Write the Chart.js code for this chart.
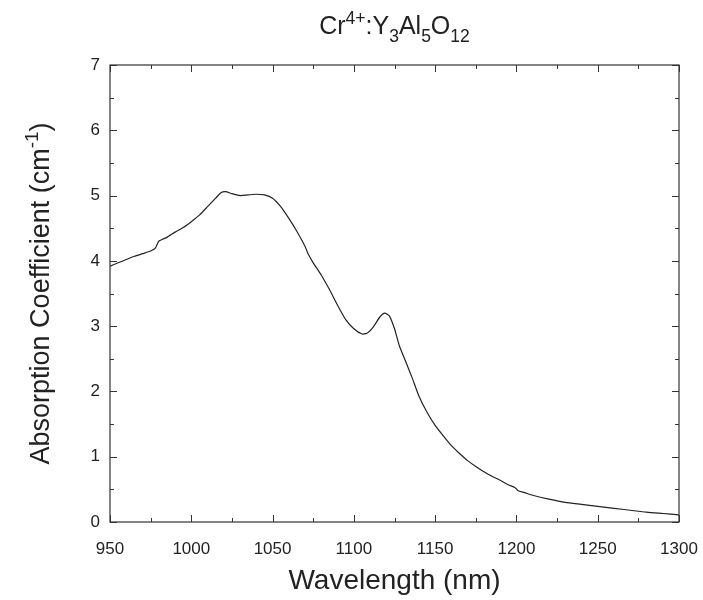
<!DOCTYPE html>
<html lang="en">
<head>
    <meta charset="UTF-8">
    <title>Cr4+:YAG absorption</title>
    <script src="https://cdn.jsdelivr.net/npm/chart.js"></script>
    <style>
        html, body { margin: 0; padding: 0; background: #fff; }
        #myChart { display: block; }
    </style>
</head>
<body>
    <canvas id="myChart" width="703" height="600"></canvas>

    <script>
        // wavelength (nm) and absorption coefficient (cm^-1)
        const wavelengths = [950, 955, 960, 965, 970, 975, 978, 980, 985, 990, 995, 1000, 1005, 1010, 1015, 1018, 1021, 1025, 1030, 1035, 1040, 1045, 1050, 1055, 1060, 1065, 1070, 1072, 1075, 1080, 1085, 1090, 1095, 1100, 1105, 1108, 1112, 1116, 1119, 1122, 1125, 1128, 1132, 1136, 1140, 1145, 1150, 1155, 1160, 1165, 1170, 1175, 1180, 1185, 1190, 1195, 1199, 1201, 1205, 1210, 1220, 1230, 1240, 1250, 1260, 1270, 1280, 1290, 1300];
        const absorption = [3.92, 3.97, 4.02, 4.07, 4.11, 4.15, 4.20, 4.30, 4.36, 4.44, 4.51, 4.60, 4.70, 4.83, 4.96, 5.04, 5.06, 5.03, 5.00, 5.01, 5.02, 5.01, 4.96, 4.83, 4.65, 4.45, 4.22, 4.10, 3.97, 3.78, 3.56, 3.32, 3.10, 2.96, 2.88, 2.89, 2.99, 3.14, 3.20, 3.15, 2.96, 2.70, 2.45, 2.20, 1.93, 1.68, 1.48, 1.32, 1.17, 1.05, 0.94, 0.85, 0.77, 0.70, 0.64, 0.57, 0.53, 0.48, 0.45, 0.41, 0.35, 0.30, 0.27, 0.24, 0.21, 0.18, 0.15, 0.13, 0.11];
        const xTicks = [950, 1000, 1050, 1100, 1150, 1200, 1250, 1300];
        const yTicks = [0, 1, 2, 3, 4, 5, 6, 7];

        const FONT = '"Liberation Sans", Arial, sans-serif';
        const INK = '#222';

        // draws text pieces with super/subscripts, starting at x
        function drawRich(ctx, parts, x, y, size) {
            let cx = x;
            for (const p of parts) {
                const s = p.pos ? size * 0.7 : size;
                ctx.font = s + 'px ' + FONT;
                const dy = p.pos === 'sup' ? -size * 0.4 : p.pos === 'sub' ? size * 0.3 : 0;
                ctx.fillText(p.t, cx, y + dy);
                cx += ctx.measureText(p.t).width;
            }
        }
        function richWidth(ctx, parts, size) {
            let w = 0;
            for (const p of parts) {
                ctx.font = (p.pos ? size * 0.7 : size) + 'px ' + FONT;
                w += ctx.measureText(p.t).width;
            }
            return w;
        }

        const framePlugin = {
            id: 'framePlugin',
            afterDraw(chart) {
                const {ctx, chartArea: a} = chart;
                const xs = chart.scales.x, ys = chart.scales.y;
                ctx.save();
                ctx.strokeStyle = '#333';
                ctx.lineWidth = 1.2;
                ctx.strokeRect(a.left, a.top, a.right - a.left, a.bottom - a.top);

                // inward ticks on all four sides, minor at halves
                ctx.lineWidth = 1;
                ctx.beginPath();
                for (let v = 950; v <= 1300; v += 25) {
                    const px = Math.round(xs.getPixelForValue(v)) + 0.5;
                    const len = v % 50 === 0 ? 7 : 4;
                    ctx.moveTo(px, a.bottom); ctx.lineTo(px, a.bottom - len);
                    ctx.moveTo(px, a.top); ctx.lineTo(px, a.top + len);
                }
                for (let v = 0; v <= 7; v += 0.5) {
                    const py = Math.round(ys.getPixelForValue(v)) + 0.5;
                    const len = v % 1 === 0 ? 7 : 4;
                    ctx.moveTo(a.left, py); ctx.lineTo(a.left + len, py);
                    ctx.moveTo(a.right, py); ctx.lineTo(a.right - len, py);
                }
                ctx.stroke();

                ctx.fillStyle = INK;
                ctx.textBaseline = 'alphabetic';
                ctx.textAlign = 'left';

                // title
                const title = [{t: 'Cr'}, {t: '4+', pos: 'sup'}, {t: ':Y'}, {t: '3', pos: 'sub'},
                               {t: 'Al'}, {t: '5', pos: 'sub'}, {t: 'O'}, {t: '12', pos: 'sub'}];
                const cx = (a.left + a.right) / 2;
                const tw = richWidth(ctx, title, 25);
                drawRich(ctx, title, cx - tw / 2, 34, 25);

                // x axis title
                ctx.font = '28px ' + FONT;
                ctx.textAlign = 'center';
                ctx.fillText('Wavelength (nm)', cx, 589);

                // y axis title
                const ylab = [{t: 'Absorption Coefficient (cm'}, {t: '-1', pos: 'sup'}, {t: ')'}];
                ctx.textAlign = 'left';
                const yw = richWidth(ctx, ylab, 27);
                ctx.translate(49, (a.top + a.bottom) / 2);
                ctx.rotate(-Math.PI / 2);
                drawRich(ctx, ylab, -yw / 2, 0, 27);
                ctx.restore();
            }
        };

        const config = {
            type: 'line',
            data: {
                datasets: [{
                    data: wavelengths.map((w, i) => ({x: w, y: absorption[i]})),
                    borderColor: '#222',
                    borderWidth: 1.2,
                    pointRadius: 0,
                    tension: 0.2,
                    fill: false
                }]
            },
            options: {
                responsive: false,
                animation: false,
                layout: {padding: {left: 0, top: 65, right: 24, bottom: 0}},
                plugins: {
                    legend: {display: false},
                    tooltip: {enabled: false}
                },
                scales: {
                    x: {
                        type: 'linear',
                        min: 950,
                        max: 1300,
                        afterFit(scale) {
                            scale.height = 78;
                            scale.paddingLeft = 0;
                            scale.paddingRight = 0;
                        },
                        afterBuildTicks(scale) { scale.ticks = xTicks.map(v => ({value: v})); },
                        grid: {display: false, drawTicks: false},
                        border: {display: false},
                        ticks: {
                            padding: 17, color: INK, font: {family: FONT, size: 17}, maxRotation: 0,
                            callback: v => String(v)
                        }
                    },
                    y: {
                        min: 0,
                        max: 7,
                        afterFit(scale) {
                            scale.width = 110;
                            scale.paddingTop = 0;
                            scale.paddingBottom = 0;
                        },
                        afterBuildTicks(scale) { scale.ticks = yTicks.map(v => ({value: v})); },
                        grid: {display: false, drawTicks: false},
                        border: {display: false},
                        ticks: {padding: 10, color: INK, font: {family: FONT, size: 17}, callback: v => String(v)}
                    }
                }
            },
            plugins: [framePlugin]
        };

        new Chart(document.getElementById('myChart').getContext('2d'), config);
    </script>
</body>
</html>
